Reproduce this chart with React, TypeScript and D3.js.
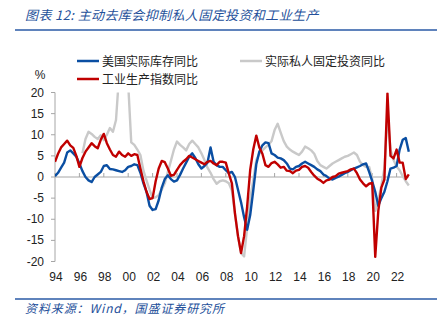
import React from "react";
import * as d3 from "d3";

const startYear = 1994; // quarterly observations, 1994Q1 .. 2023Q1
const stepYears = 0.25;

const inventoryYoY: (number | null)[] = [
  0.2, 1.0, 2.2, 3.4, 5.8, 6.3, 5.6, 4.8,
  3.2, 1.4, 0.0, -0.8, -1.2, 0.0, 0.6, 1.2,
  2.6, 2.8, 1.9, 1.8, 1.6, 1.4, 1.2, 1.6,
  2.4, 2.6, 3.0, 2.8, 1.0, -1.5, -3.5, -6.8,
  -7.8, -7.6, -5.5, -2.5, -0.5, 0.4, -0.5, -1.1,
  -0.8, 0.5, 2.0, 3.4, 4.8, 5.6, 4.5, 3.0,
  2.0, 2.6, 3.4, 7.0, 3.6, 2.8, 2.4, 2.4,
  1.6, 0.9, 1.2, 0.0, -3.0, -6.0, -9.5, -12.5,
  -9.0, -3.2, 3.0, 6.0, 7.5, 8.2, 8.0, 5.6,
  5.2, 4.6, 4.4, 4.0, 3.2, 2.0, 1.8, 2.4,
  2.6, 3.2, 3.6, 3.2, 2.8, 2.4, 1.8, 1.4,
  0.6, 0.2, -0.4, -0.6, -0.2, 0.1, 0.5, 0.9,
  1.2, 1.6, 2.0, 2.3, 2.6, 3.0, 3.2, 1.2,
  -1.0, -3.5, -6.8, -5.0, -3.5, -1.0, 2.0, 2.2,
  2.6, 6.5, 8.8, 9.2, 6.0,
];

const privateInvestmentYoY: (number | null)[] = [
  null, null, null, null, null, null, null, null,
  null, 5.6, 9.0, 10.7, 10.2, 9.5, 9.0, 9.9,
  8.7, 10.0, 11.6, 10.7, 13.5, 24, 30, 28,
  22, 8.2, 7.6, 6.5, 5.2, 1.5, -0.8, -3.0,
  -5.0, -4.8, -4.3, -3.0, -1.5, 1.2, 3.8, 6.5,
  8.4, 7.6, 7.0, 6.3, 7.8, 8.6, 7.8, 7.0,
  5.6, 4.0, 2.2, 1.0, -0.5, -1.6, -1.0, -0.8,
  -1.0, -1.5, -3.2, -8.6, -14.0, -18.0, -18.8, -12.0,
  -5.0, -0.8, 4.0, 5.5, 6.3, 7.0, 7.6, 8.5,
  11.1, 12.6, 10.5, 8.5, 7.2, 6.5, 6.0, 5.6,
  5.2, 6.0, 7.2, 6.8, 6.3, 5.5, 3.8, 2.8,
  2.4, 2.0, 2.6, 3.2, 3.6, 4.0, 4.4, 4.8,
  5.0, 5.4, 5.8, 5.2, 3.6, 2.8, 2.4, 2.4,
  -0.5, -8.0, -5.5, -2.0, 2.0, 15.0, 6.5, 4.0,
  2.5, 1.6, 0.2, -1.0, -2.0,
];

const industrialProductionYoY: (number | null)[] = [
  3.6, 5.5, 7.0, 7.8, 8.6, 7.5, 6.9, 5.0,
  2.4, 4.5, 6.0, 7.0, 8.0, 7.3, 6.8, 8.8,
  10.2, 8.0, 6.5, 5.2, 4.8, 6.0, 5.2, 4.8,
  5.6, 5.0, 5.4, 5.2, 2.0, -1.0, -3.5, -5.2,
  -5.0, -1.0, 2.0, 3.8, 3.5, 2.0, 0.3, 0.5,
  1.7, 2.8, 3.6, 4.2, 5.0, 4.6, 4.2, 3.8,
  3.4, 3.0, 3.6, 3.8, 3.2, 2.8, 3.6, 3.6,
  3.4, 0.8, -1.5, -8.6, -14.0, -18.0, -14.0, -7.0,
  1.7, 6.5, 9.8, 7.0, 5.5, 2.8, 2.4, 3.3,
  3.6, 3.0, 2.2, 2.4, 1.5, 1.4, 0.9, 1.5,
  1.7, 2.4, 2.6, 2.2, 1.2, 0.3, -0.4, -0.8,
  -1.4, -0.8, -0.6, 0.0, 0.2, 0.8, 1.0, 1.2,
  1.4, 1.8, 2.0, 0.9, -0.6, -1.5, -2.2, -1.6,
  -1.4, -18.9, -8.0, -2.5, -0.6, 19.8, 5.0, 4.4,
  6.5, 3.4, 3.4, -0.5, 0.6,
];

const yTicks = [20, 15, 10, 5, 0, -5, -10, -15, -20];
const xTickYears = [1994, 1996, 1998, 2000, 2002, 2004, 2006, 2008, 2010, 2012, 2014, 2016, 2018, 2020, 2022];

const titleText = "图表 12:  主动去库会抑制私人固定投资和工业生产";
const sourceText = "资料来源：Wind，国盛证券研究所";
const legendItems = [
  { label: "美国实际库存同比", color: "#0a4ea2", x: 77, y: 61 },
  { label: "实际私人固定投资同比", color: "#c9c9c9", x: 240, y: 61 },
  { label: "工业生产指数同比", color: "#c00000", x: 77, y: 79 },
];

const W = 444;
const H = 329;
const left = 55;
const top = 92.5;
const bottom = 261.5;

export default function App() {
  const x = d3.scaleLinear().domain([1994, 2023]).range([left, left + 29 * 12.2]);
  const y = d3.scaleLinear().domain([-20, 20]).range([bottom, top]);
  const yearAt = (i: number) => startYear + i * stepYears;
  const line = d3
    .line<number | null>()
    .defined((d) => d !== null)
    .x((_, i) => x(yearAt(i)))
    .y((d) => y(d as number));

  const series = [
    { data: privateInvestmentYoY, color: "#c9c9c9" },
    { data: inventoryYoY, color: "#0a4ea2" },
    { data: industrialProductionYoY, color: "#c00000" },
  ];
  const font = "'Liberation Sans', Arial, sans-serif";
  const cjk = "'Noto Sans CJK SC', sans-serif";

  return (
    <svg
      width={W}
      height={H}
      style={{ position: "absolute", left: 0, top: 0, background: "#fff" }}
    >
      <defs>
        <clipPath id="plotClip">
          <rect x={left} y={top} width={W - left} height={bottom - top} />
        </clipPath>
      </defs>
      <text x={25} y={20} fontFamily={cjk} fontSize={13} fontStyle="italic" fill="#24509a" letterSpacing={0.4}>
        {titleText}
      </text>
      <line x1={15} x2={437} y1={30} y2={30} stroke="#2a5aa6" strokeWidth={1.6} />

      {legendItems.map((l) => (
        <g key={l.label}>
          <line x1={l.x} x2={l.x + 22} y1={l.y} y2={l.y} stroke={l.color} strokeWidth={2.5} />
          <text x={l.x + 25} y={l.y + 4.5} fontFamily={cjk} fontSize={12} fill="#222">
            {l.label}
          </text>
        </g>
      ))}
      <text x={40} y={79} textAnchor="middle" fontFamily={font} fontSize={12} fill="#222">
        %
      </text>

      {/* y axis */}
      <line x1={left} x2={left} y1={top} y2={bottom} stroke="#a6a6a6" strokeWidth={1} />
      {yTicks.map((t) => (
        <g key={t}>
          <line x1={left - 4} x2={left} y1={y(t)} y2={y(t)} stroke="#a6a6a6" />
          <text x={44} y={y(t) + 4} textAnchor="end" fontFamily={font} fontSize={12} fill="#222">
            {t}
          </text>
        </g>
      ))}
      {/* x axis at zero */}
      <line x1={left} x2={x(2023)} y1={y(0)} y2={y(0)} stroke="#a6a6a6" strokeWidth={1} />
      {xTickYears.map((yr) => (
        <g key={yr}>
          <line x1={x(yr)} x2={x(yr)} y1={y(0) - 4} y2={y(0)} stroke="#a6a6a6" />
          <text x={x(yr) + 1} y={281} textAnchor="middle" fontFamily={font} fontSize={12} fill="#222">
            {String(yr % 100).padStart(2, "0")}
          </text>
        </g>
      ))}

      <g clipPath="url(#plotClip)">
        {series.map((s, k) => (
          <path
            key={k}
            d={line(s.data) || ""}
            fill="none"
            stroke={s.color}
            strokeWidth={2.4}
            strokeLinejoin="round"
          />
        ))}
      </g>

      <line x1={15} x2={437} y1={299} y2={299} stroke="#2a5aa6" strokeWidth={1.4} />
      <text x={25} y={313} fontFamily={cjk} fontSize={12} fontStyle="italic" fill="#24509a" letterSpacing={0.9}>
        {sourceText}
      </text>
    </svg>
  );
}
